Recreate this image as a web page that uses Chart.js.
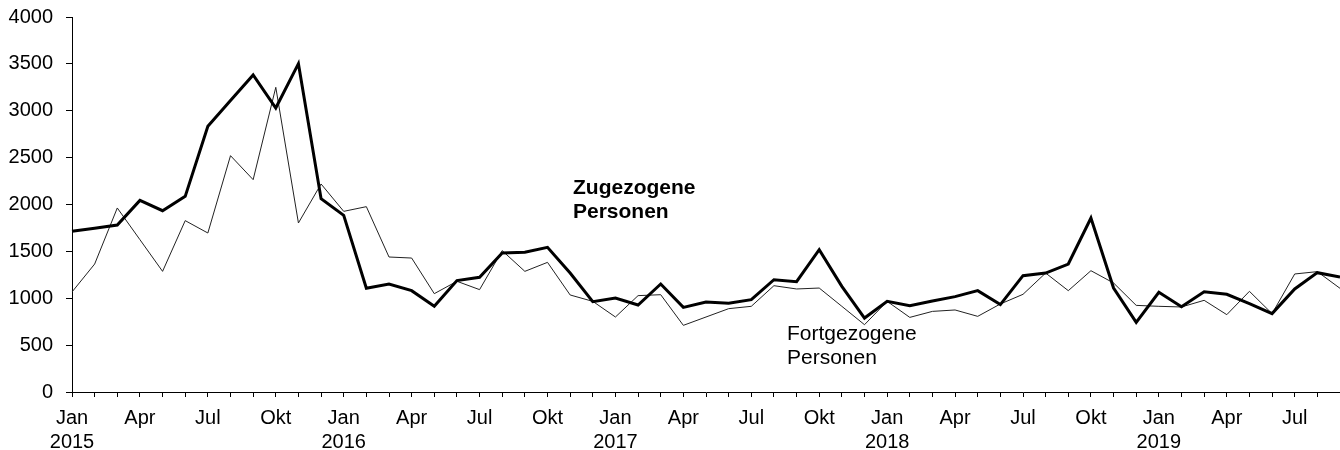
<!DOCTYPE html>
<html>
<head>
<meta charset="utf-8">
<script src="https://cdn.jsdelivr.net/npm/chart.js@4/dist/chart.umd.min.js"></script>
<style>
  body { margin: 0; background: #fff; }
  canvas { display: block; }
</style>
</head>
<body>
<canvas id="wanderung" width="1340" height="450"></canvas>
<script>
// Monate Jan 2015 - Sep 2019
const monthNames = ['Jan', 'Feb', 'Mär', 'Apr', 'Mai', 'Jun', 'Jul', 'Aug', 'Sep', 'Okt', 'Nov', 'Dez'];
const years = [2015, 2016, 2017, 2018, 2019];
const monthCount = 57;
const labeledMonths = ['Jan', 'Apr', 'Jul', 'Okt'];

const zugezogen = [
    1714, 1746, 1781, 2044, 1934, 2087, 2834, 3110, 3382, 3029, 3502, 2062,
    1884, 1106, 1152, 1081, 914, 1188, 1223, 1483, 1490, 1543, 1269, 964,
    1003, 928, 1152, 903, 960, 946, 985, 1198, 1177, 1518, 1127, 789,
    967, 921, 971, 1017, 1081, 932, 1241, 1269, 1365, 1856, 1109, 743,
    1063, 910, 1070, 1042, 942, 836, 1099, 1273, 1227
];

const fortgezogen = [
    1067, 1365, 1963, 1625, 1287, 1828, 1696, 2521, 2265, 3250, 1803, 2219,
    1927, 1977, 1440, 1429, 1049, 1181, 1092, 1508, 1287, 1383, 1035, 967,
    800, 1028, 1038, 711, 800, 889, 914, 1134, 1099, 1109, 914, 718,
    967, 796, 860, 875, 807, 939, 1042, 1269, 1081, 1294, 1163, 924,
    914, 907, 978, 825, 1074, 836, 1259, 1284, 1106
];

const labels = [];
for (let i = 0; i < monthCount; i++) {
    labels.push([monthNames[i % 12], String(years[Math.floor(i / 12)])]);
}

Chart.defaults.font.family = '"Liberation Sans", Arial, sans-serif';
Chart.defaults.font.size = 20;
Chart.defaults.color = '#000';

// Beschriftung der beiden Linien direkt im Diagramm
const seriesLabels = {
    id: 'seriesLabels',
    afterDatasetsDraw(chart) {
        const ctx = chart.ctx;
        ctx.save();
        ctx.fillStyle = '#000';
        ctx.textBaseline = 'alphabetic';
        ctx.textAlign = 'left';
        ctx.font = 'bold 21px "Liberation Sans", Arial, sans-serif';
        ctx.fillText('Zugezogene', 573, 194);
        ctx.fillText('Personen', 573, 218);
        ctx.font = '21px "Liberation Sans", Arial, sans-serif';
        ctx.fillText('Fortgezogene', 787, 340);
        ctx.fillText('Personen', 787, 364);
        ctx.restore();
    }
};

const chartWanderung = new Chart(document.getElementById('wanderung'), {
    type: 'line',
    data: {
        labels: labels,
        datasets: [{
            label: 'Zugezogene Personen',
            data: zugezogen,
            borderColor: '#000',
            borderWidth: 3,
            borderJoinStyle: 'miter',
            pointRadius: 0,
            tension: 0
        }, {
            label: 'Fortgezogene Personen',
            data: fortgezogen,
            borderColor: '#222',
            borderWidth: 1,
            borderJoinStyle: 'miter',
            pointRadius: 0,
            tension: 0
        }]
    },
    options: {
        responsive: false,
        animation: false,
        layout: {
            padding: { top: 17, right: 0, left: 0, bottom: 0 }
        },
        plugins: {
            legend: { display: false },
            tooltip: { enabled: false }
        },
        scales: {
            x: {
                offset: false,
                grid: {
                    offset: false,
                    drawOnChartArea: false,
                    drawTicks: true,
                    tickLength: 5,
                    color: '#000'
                },
                border: { display: true, color: '#000', width: 1 },
                ticks: {
                    autoSkip: false,
                    maxRotation: 0,
                    padding: 9,
                    color: '#000',
                    callback: function (value, index) {
                        const lbl = labels[index];
                        if (!labeledMonths.includes(lbl[0])) return '';
                        return lbl[0] === 'Jan' ? lbl : lbl[0];
                    }
                },
                afterFit: function (scale) {
                    scale.height = 58;
                    scale.paddingLeft = 0;
                    scale.paddingRight = 0;
                }
            },
            y: {
                min: 0,
                max: 4000,
                grid: {
                    drawOnChartArea: false,
                    drawTicks: true,
                    tickLength: 6,
                    color: '#000'
                },
                border: { display: true, color: '#000', width: 1 },
                ticks: {
                    stepSize: 500,
                    padding: 13,
                    color: '#000',
                    callback: function (value) {
                        return String(value);
                    }
                },
                afterFit: function (scale) {
                    scale.width = 72;
                    scale.paddingTop = 0;
                    scale.paddingBottom = 0;
                }
            }
        }
    },
    plugins: [seriesLabels]
});
</script>
</body>
</html>
